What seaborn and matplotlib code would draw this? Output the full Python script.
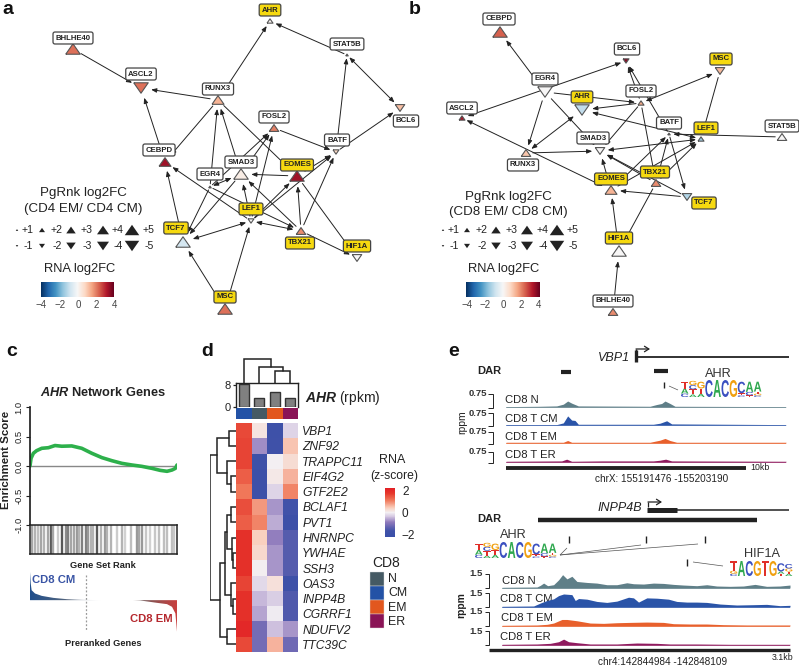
import numpy as np
import pandas as pd
import matplotlib
matplotlib.use("Agg")
import matplotlib.pyplot as plt
import seaborn as sns
from matplotlib.colors import LinearSegmentedColormap, ListedColormap
from matplotlib.font_manager import FontProperties
from matplotlib.patches import PathPatch, Polygon, Rectangle
from matplotlib.textpath import TextPath
from matplotlib.transforms import Affine2D

# -----------------------------------------------------------------------------
# DATA a : CD4 network (layout, in image pixels)
# -----------------------------------------------------------------------------
a_names = ["AHR", "BHLHE40", "ASCL2", "RUNX3", "STAT5B", "BCL6", "FOSL2", "BATF", "CEBPD",
           "SMAD3", "EGR4", "EOMES", "LEF1", "TCF7", "TBX21", "HIF1A", "MSC"]
a_x = [270, 73, 141, 218, 347, 400, 274, 336, 165, 241, 210, 297, 251, 183, 301, 357, 225]
a_y = [21, 49, 88, 100, 55, 108, 128, 152, 162, 174, 187, 176, 221, 242, 231, 258, 309]
a_lx = [270, 73, 141, 218, 347, 406, 274, 337, 159, 241, 210, 297, 251, 176, 300, 357, 225]
a_ly = [10, 38, 74, 89, 44, 121, 117, 140, 150, 162, 174, 165, 209, 228, 243, 246, 297]
a_rna = [0.1, 2.2, 2.2, 1.4, 0.0, 1.2, 2.0, 0.8, 3.4, 0.3, 0.1, 3.4, 0.0, -0.7, 1.9, 0.0, 2.2]
a_pgrnk = [2, 5, -5, 4, 1, -3, 3, -2, 4, 5, 1, 5, -2, 5, 3, -3, 5]
a_tf = ["AHR", "EOMES", "LEF1", "TCF7", "TBX21", "HIF1A", "MSC"]
a_edges = [("BHLHE40", "ASCL2"), ("CEBPD", "ASCL2"), ("RUNX3", "ASCL2"), ("RUNX3", "AHR"),
           ("RUNX3", "CEBPD"), ("EGR4", "RUNX3"), ("SMAD3", "RUNX3"), ("RUNX3", "EOMES"),
           ("STAT5B", "AHR"), ("FOSL2", "BATF"), ("BATF", "BCL6"), ("EGR4", "FOSL2"),
           ("SMAD3", "FOSL2"), ("LEF1", "FOSL2"), ("EOMES", "SMAD3"), ("LEF1", "SMAD3"),
           ("LEF1", "EOMES"), ("LEF1", "BATF"), ("EOMES", "BATF"), ("TBX21", "BATF"),
           ("TBX21", "EOMES"), ("TBX21", "SMAD3"), ("TBX21", "HIF1A"), ("EOMES", "HIF1A"),
           ("EGR4", "TBX21"), ("LEF1", "CEBPD"), ("TCF7", "CEBPD"), ("EGR4", "TCF7"),
           ("SMAD3", "TCF7"), ("MSC", "TCF7"), ("MSC", "LEF1")]
a_both = [("STAT5B", "BATF"), ("STAT5B", "BCL6"), ("LEF1", "TBX21"), ("EGR4", "SMAD3"), ("LEF1", "TCF7")]

# DATA b : CD8 network
b_names = ["CEBPD", "BCL6", "MSC", "EGR4", "AHR", "FOSL2", "ASCL2", "BATF", "LEF1", "STAT5B",
           "SMAD3", "RUNX3", "EOMES", "TBX21", "TCF7", "HIF1A", "BHLHE40"]
b_x = [500, 626, 720, 545, 582, 641, 462, 669, 701, 782, 600, 526, 611, 656, 687, 619, 613]
b_y = [32, 61, 71, 92, 110, 103, 118, 134, 139, 137, 151, 153, 190, 183, 197, 251, 312]
b_lx = [499, 627, 721, 545, 582, 641, 462, 669, 706, 782, 593, 523, 611, 655, 704, 619, 613]
b_ly = [19, 49, 59, 79, 97, 91, 108, 123, 128, 126, 138, 165, 179, 172, 203, 238, 301]
b_rna = [2.4, 3.6, 1.3, 0.0, -1.0, 1.5, 3.3, 0.2, -1.5, 0.0, 0.0, 1.1, 1.4, 1.9, -1.2, 0.0, 1.9]
b_pgrnk = [5, -2, -3, -5, -5, 2, 2, 1, 2, 3, -3, 3, 4, 3, -3, 5, 3]
b_tf = ["MSC", "AHR", "LEF1", "EOMES", "TBX21", "TCF7", "HIF1A"]
b_edges = [("EGR4", "CEBPD"), ("EGR4", "FOSL2"), ("EGR4", "RUNX3"), ("EGR4", "SMAD3"),
           ("RUNX3", "SMAD3"), ("FOSL2", "AHR"), ("FOSL2", "BCL6"), ("BATF", "BCL6"),
           ("MSC", "LEF1"), ("STAT5B", "BATF"), ("FOSL2", "SMAD3"), ("FOSL2", "TBX21"),
           ("BATF", "TCF7"), ("TBX21", "LEF1"), ("TBX21", "BATF"), ("EOMES", "LEF1"),
           ("EOMES", "BATF"), ("EOMES", "SMAD3"), ("TBX21", "SMAD3"), ("TCF7", "SMAD3"),
           ("TCF7", "EOMES"), ("TBX21", "HIF1A"), ("BHLHE40", "HIF1A")]
b_both = [("BCL6", "ASCL2"), ("RUNX3", "AHR"), ("ASCL2", "EOMES"), ("FOSL2", "MSC"),
          ("LEF1", "AHR"), ("LEF1", "SMAD3"), ("EOMES", "HIF1A")]

legend_levels = [1, 2, 3, 4, 5]

# DATA c : GSEA
es_rank = [0, .007, .023, .045, .08, .125, .17, .216, .284, .352, .42, .489, .557, .625,
           .693, .761, .83, .886, .932, .966, .989, 1.0]
es_score = [0, .13, .216, .26, .30, .31, .347, .335, .34, .30, .216, .142, .09, .045,
            .017, -.006, -.04, -.074, -.09, -.068, -.04, .017]
rug_pos = [22, 30, 38, 47, 58, 70, 78, 85, 98, 112, 122, 130, 137, 146, 155, 163, 170, 182, 190, 197,
           205, 217, 228, 238, 245, 258, 275, 290, 300, 318, 335, 342, 350, 362, 375, 388, 402, 415,
           425, 440, 447]
rug_shade = [.35, .3, .25, .35, .3, .35, .65, .35, .2, .65, .45, .5, .35, .35, .4, .3, .5, .5, .4, .3,
             .3, .65, .3, .4, .3, .3, .2, .3, .18, .25, .4, .35, .4, .22, .18, .22, .25, .25,
             .25, .25, .22]
rank_pos = [0, .005, .011, .034, .08, .159, .25, .364, .477, .7, .75, .864, .932, .966, .989, 1.0]
rank_metric = [28.3, 16.7, 10, 6.7, 4.3, 2.3, 1, .3, 0, 0, -.3, -2.7, -4, -6.7, -13.3, -31.7]

# DATA d : heatmap and AHR expression
col_names = ["CM", "N", "EM", "ER"]
gene_names = ["VBP1", "ZNF92", "TRAPPC11", "EIF4G2", "GTF2E2", "BCLAF1", "PVT1", "HNRNPC",
              "YWHAE", "SSH3", "OAS3", "INPP4B", "CGRRF1", "NDUFV2", "TTC39C"]
z_cm = [1.55, 1.6, 1.6, 1.35, 1.1, 1.5, 1.35, 1.85, 1.85, 1.85, 1.6, 1.85, 1.85, 2.0, 1.55]
z_n = [.15, -.75, -1.75, -1.85, -1.85, .85, 1.0, .4, .3, .03, -.2, -.45, -.6, -1.15, -1.15]
z_em = [-1.75, -1.7, 0, .1, -.25, -.7, -.55, -.85, -.7, -.7, .2, -.3, -.05, -.4, .65]
z_er = [-.25, .5, .25, .65, 1.0, -1.65, -1.85, -1.45, -1.45, -1.45, -1.8, -1.5, -1.5, -.7, -1.2]
ahr_rpkm = [8.3, 3.2, 5.6, 3.1]
legend_subsets = ["N", "CM", "EM", "ER"]
# (height, left, right), leaves are row / column indices
row_tree = (76, (55, (20, 0, 1), (26, 2, (14, 3, 4))),
            (47, (33, (25, (14, 5, 6), (12, 7, (8, 8, 9))), (16, 10, (8, 11, 12))), (26, 13, 14)))
col_tree = (73, 0, (47, 1, (35, 2, 3)))

# DATA e : accessibility tracks (position along the window, height in track units)
track_names = ["CD8 N", "CD8 T CM", "CD8 T EM", "CD8 T ER"]
vbp1_pos = [[228, 330, 380, 400, 413, 425, 445, 660, 680, 695, 705, 720, 735, 1068],
            [228, 380, 400, 413, 425, 435, 445, 670, 690, 710, 725, 1068],
            [228, 400, 413, 425, 660, 690, 705, 720, 740, 1068],
            [228, 395, 410, 425, 515, 670, 690, 707, 725, 1068]]
vbp1_h = [[1, 2, 3, 8, 17, 11, 3, 2, 7, 10, 17, 10, 2, 1],
          [1, 1, 6, 26, 14, 13, 2, 2, 5, 12, 3, 1],
          [2, 2, 7, 2, 2, 8, 13, 7, 2, 2],
          [2, 3, 8, 2, 3, 3, 5, 8, 3, 2]]
inpp4b_pos = [[215, 320, 330, 340, 352, 370, 385, 397, 410, 425, 440, 470, 500, 530, 560, 590, 610,
               640, 670, 700, 730, 760, 800, 830, 860, 900, 940, 975, 1010, 1050, 1080],
              [215, 310, 330, 350, 370, 385, 400, 425, 435, 445, 470, 500, 530, 560, 595, 610, 625,
               650, 680, 715, 740, 770, 800, 830, 870, 920, 970, 1010, 1050, 1080],
              [215, 320, 350, 370, 395, 410, 440, 480, 520, 560, 600, 650, 700, 730, 780, 830, 880, 950, 1080],
              [215, 320, 360, 385, 400, 415, 440, 480, 520, 560, 620, 680, 720, 800, 900, 1080]]
inpp4b_h = [[2, 3, 8, 15, 7, 10, 25, 41, 28, 36, 20, 17, 15, 10, 10, 16, 13, 12, 15, 14, 11, 9, 7, 10, 6, 5, 6, 11, 5, 6, 9],
            [2, 3, 12, 20, 25, 35, 40, 38, 20, 26, 24, 17, 14, 18, 30, 28, 15, 28, 27, 24, 17, 15, 15, 14, 9, 6, 7, 8, 4, 5],
            [2, 3, 5, 9, 20, 20, 16, 9, 8, 10, 11, 12, 11, 7, 6, 6, 4, 3, 3],
            [2, 3, 5, 10, 18, 10, 7, 3, 3, 3, 6, 5, 3, 3, 2, 2]]

# motif columns, letters from bottom to top with their share of the column
ahr_motif = [[("C", .2), ("A", .3), ("T", .4)], [("A", .15), ("T", .3), ("C", .25), ("G", .25)],
             [("A", .2), ("T", .3), ("G", .4)], [("C", 1)], [("A", 1)], [("C", 1)], [("G", 1)],
             [("C", .1), ("T", .12), ("C", .68)], [("T", .1), ("C", .2), ("A", .6)],
             [("C", .1), ("G", .1), ("T", .12), ("A", .58)]]
hif_motif = [[("C", .15), ("G", .2), ("T", .65)], [("A", 1)], [("C", 1)], [("G", 1)], [("T", 1)], [("G", 1)],
             [("T", .15), ("A", .15), ("C", .55)], [("A", .15), ("T", .15), ("G", .2), ("C", .3)]]

# -----------------------------------------------------------------------------
# STYLE
# -----------------------------------------------------------------------------
W, H = 799, 666
sns.set_theme(style="white")
plt.rcParams["font.family"] = ["Liberation Sans", "DejaVu Sans"]
plt.rcParams["mathtext.fontset"] = "custom"
plt.rcParams["mathtext.bfit"] = "Liberation Sans:italic:bold"
plt.rcParams["mathtext.rm"] = "Liberation Sans"

DARK = "#222222"
YELLOW = "#f6d90f"
TRACK_COLS = ["#5f7f88", "#2a54a8", "#e8602c", "#8f1a5e"]
SUBSET_COLS = {"CM": "#2352a6", "N": "#455a64", "EM": "#e2571e", "ER": "#8a1456"}
LETTER_COLS = {"A": "#2fa84f", "C": "#3b50c0", "G": "#f0a010", "T": "#e0302a"}
WIDTHS = {1: 2.5, 2: 6, 3: 9.5, 4: 12, 5: 14.5}
SIZES = {k: (v * 0.72) ** 2 for k, v in WIDTHS.items()}
TRI = {"up": [(-1, -.72), (1, -.72), (0, .72), (-1, -.72)], "down": [(-1, .72), (1, .72), (0, -.72), (-1, .72)]}

fig = plt.figure(figsize=(W / 100, H / 100), dpi=100)


def px_axes(x0, y0, x1, y1):
    return fig.add_axes([x0 / W, 1 - y1 / H, (x1 - x0) / W, (y1 - y0) / H])


# full figure canvas in image pixels for the network and all loose text
canvas = px_axes(0, 0, W, H)
canvas.set_xlim(0, W)
canvas.set_ylim(H, 0)
canvas.axis("off")
canvas.patch.set_alpha(0)


def put(x, y, s, size=8, ha="center", va="center", **kw):
    canvas.text(x, y, s, fontsize=size, ha=ha, va=va, color=kw.pop("color", DARK), **kw)


def rule(xs, ys, lw=1, color=DARK):
    canvas.plot(xs, ys, lw=lw, color=color, solid_capstyle="butt", solid_joinstyle="miter")


def triangles(df):
    df = df.assign(dir=np.where(df["pg"] > 0, "up", "down"), lvl=df["pg"].abs())
    if "rna" in df:
        sns.scatterplot(data=df, x="x", y="y", hue="rna", hue_norm=(-4, 4), palette="RdBu_r", size="lvl",
                        sizes=SIZES, style="dir", markers=TRI, edgecolor="#555555", linewidth=.8,
                        legend=False, zorder=3, ax=canvas)
    else:
        sns.scatterplot(data=df, x="x", y="y", color=DARK, size="lvl", sizes=SIZES, style="dir", markers=TRI,
                        edgecolor=DARK, linewidth=0, legend=False, zorder=3, ax=canvas)


def network(names, xs, ys, lxs, lys, rna, pg, tfs, edges, both):
    nodes = pd.DataFrame({"name": names, "x": xs, "y": ys, "rna": rna, "pg": pg}).set_index("name")
    for pairs, style in ((edges, "-|>"), (both, "<|-|>")):
        for src, dst in pairs:
            s, d = nodes.loc[src], nodes.loc[dst]
            canvas.annotate("", xy=(d.x, d.y), xytext=(s.x, s.y), zorder=2, arrowprops=dict(
                arrowstyle=style + ",head_length=.45,head_width=.18", mutation_scale=7, lw=.7, color=DARK,
                shrinkA=(WIDTHS[abs(s.pg)] * .5 + 2) * .72, shrinkB=(WIDTHS[abs(d.pg)] * .5 + 3) * .72))
    triangles(nodes.reset_index())
    for n, lx, ly in zip(names, lxs, lys):
        canvas.text(lx, ly, n, fontsize=5.6, fontweight="bold", ha="center", va="center", color="#222222", zorder=4,
                    bbox=dict(boxstyle="round,pad=0.32,rounding_size=0.25", lw=.9, ec="#444444",
                              fc=YELLOW if n in tfs else "white"))


def size_legend(title1, title2, tx, tri_x, lab_x, rna_x, bar_x, tick_x):
    put(tx, 193 if tx < 300 else 197, title1, 9.6)
    put(tx, 209 if tx < 300 else 212, title2, 9.6)
    triangles(pd.DataFrame({"x": tri_x, "y": [230] * 5, "pg": legend_levels}))
    triangles(pd.DataFrame({"x": tri_x, "y": [246] * 5, "pg": [-v for v in legend_levels]}))
    for lx, lev in zip(lab_x, legend_levels):
        put(lx, 230, f"+{lev}", 7.6)
        put(lx, 246, f"-{lev}", 7.6)
    put(rna_x, 269, "RNA log2FC", 9.3)
    cax = px_axes(bar_x[0], 282, bar_x[1], 297)
    cax.imshow(np.linspace(-4, 4, 256)[None, :], cmap="RdBu_r", vmin=-4, vmax=4, aspect="auto")
    cax.axis("off")
    for tk, lab in zip(tick_x, ["\u22124", "\u22122", "0", "2", "4"]):
        put(tk, 305, lab, 7, color="#444444")


network(a_names, a_x, a_y, a_lx, a_ly, a_rna, a_pgrnk, a_tf, a_edges, a_both)
network(b_names, b_x, b_y, b_lx, b_ly, b_rna, b_pgrnk, b_tf, b_edges, b_both)
size_legend("PgRnk log2FC", "(CD4 EM/ CD4 CM)", 83, [17, 42, 71, 103, 132], [28, 57, 87, 118, 149],
            80, (41, 114), [41, 60, 78, 96, 114])
size_legend("PgRnk log2FC", "(CD8 EM/ CD8 CM)", 508, [443, 467, 496, 527, 557], [454, 482, 512, 543, 573],
            504, (466, 539), [467, 485, 503, 521, 539])

for lab, lx, ly in (("a", 8, 9), ("b", 415, 10), ("c", 12, 352), ("d", 207, 352), ("e", 454, 352)):
    put(lx, ly, lab, 14, fontweight="bold", color="#111111")

# -----------------------------------------------------------------------------
# PANEL c
# -----------------------------------------------------------------------------
ax_es = px_axes(30, 407, 177, 525)
ax_es.axhline(0, color="#888888", lw=1)
sns.lineplot(x=es_rank, y=es_score, color="#2db04b", lw=2.6, ax=ax_es, errorbar=None)
ax_es.set(xlim=(0, 1), ylim=(-1, 1), xlabel="", ylabel="", xticks=[], yticks=[-1, -.5, 0, .5, 1])
ax_es.set_yticklabels(["-1.0", "-0.5", "0.0", "0.5", "1.0"], rotation=90, va="center", fontsize=6.8)
ax_es.tick_params(axis="y", length=3, width=.8, pad=1.5, left=True, color=DARK, labelcolor=DARK)
sns.despine(ax=ax_es, top=True, right=True, bottom=True)
ax_es.spines["left"].set_color(DARK)
ax_es.patch.set_alpha(0)
put(6, 460, "Enrichment Score", 8.2, rotation=90, fontweight="bold")
put(103, 393, r"$\bfit{AHR}$ Network Genes", 9.2, fontweight="bold")

ax_rug = px_axes(30, 525, 177, 554)
ax_rug.vlines(np.array(rug_pos), 0, 1, colors=[str(round(1 - v, 2)) for v in rug_shade], lw=1.7)
ax_rug.set(xlim=(15, 455), ylim=(0, 1), xticks=[], yticks=[])
for sp in ax_rug.spines.values():
    sp.set_visible(True)
    sp.set_color(DARK)
    sp.set_linewidth(1.1)
put(103, 566, "Gene Set Rank", 6.7, fontweight="bold")

ax_rank = px_axes(30, 572, 177, 632)
grad = LinearSegmentedColormap.from_list("rank", ["#1f4e8c", "#55667e", "#ffffff", "#6e5a5a", "#c8403f"])
im = ax_rank.imshow(np.linspace(0, 1, 256)[None, :], cmap=grad, extent=(0, 1, -31.7, 28.3), aspect="auto")
clip = Polygon(np.column_stack([rank_pos + [1, 0], rank_metric + [0, 0]]), fc="none", ec="none")
ax_rank.add_patch(clip)
im.set_clip_path(clip)
ax_rank.set(xlim=(0, 1), ylim=(-32, 28.3))
ax_rank.axis("off")
rule([86, 86], [575, 630], lw=.9, color="#999999")
canvas.lines[-1].set_linestyle((0, (1.5, 1.5)))
put(32, 580, "CD8 CM", 8.1, ha="left", fontweight="bold", color="#3a55a5")
put(173, 619, "CD8 EM", 8.1, ha="right", fontweight="bold", color="#b5282e")
put(103, 643, "Preranked Genes", 6.7, fontweight="bold")


# -----------------------------------------------------------------------------
# PANEL d
# -----------------------------------------------------------------------------
def draw_tree(ax, node, horizontal):
    if not isinstance(node, tuple):
        return node + .5, 0
    h, left, right = node
    p0, h0 = draw_tree(ax, left, horizontal)
    p1, h1 = draw_tree(ax, right, horizontal)
    hs, ps = [h0, h, h, h1], [p0, p0, p1, p1]
    ax.plot(hs if horizontal else ps, ps if horizontal else hs, color=DARK, lw=1.1, solid_joinstyle="miter")
    return (p0 + p1) / 2, h


zscores = pd.DataFrame({"CM": z_cm, "N": z_n, "EM": z_em, "ER": z_er}, index=gene_names)
z_cmap = LinearSegmentedColormap.from_list("zrna", [
    (0, "#3a4fa8"), (.12, "#3f51a8"), (.3, "#8f7abc"), (.42, "#d5c8e2"), (.5, "#f3f0f3"),
    (.6, "#f9cdbb"), (.75, "#f0785a"), (.9, "#e5352a"), (1, "#e21f26")])
ax_heat = px_axes(236, 423, 298, 652)
ax_cb = px_axes(385, 488, 395, 537)
sns.heatmap(zscores, cmap=z_cmap, vmin=-2.2, vmax=2.2, ax=ax_heat, cbar_ax=ax_cb, xticklabels=False, yticklabels=True)
ax_heat.yaxis.tick_right()
ax_heat.tick_params(axis="y", length=0, pad=3, labelsize=8.7, labelcolor=DARK)
for lab in ax_heat.get_yticklabels():
    lab.set_rotation(0)
    lab.set_fontstyle("italic")
ax_heat.set(xlabel="", ylabel="")
ax_cb.set_yticks([-2, 0, 2])
ax_cb.set_yticklabels(["\u22122", "0", "2"])
ax_cb.tick_params(axis="y", length=3, width=.9, color="white", direction="in", pad=5, labelsize=8.5, labelcolor=DARK)
put(392, 460, "RNA", 9)
put(394, 476, "(z-score)", 8.7)

ax_strip = px_axes(236, 408, 298, 419)
sns.heatmap(pd.DataFrame([range(4)], columns=col_names), cmap=ListedColormap([SUBSET_COLS[c] for c in col_names]),
            cbar=False, xticklabels=False, yticklabels=False, ax=ax_strip)
ax_strip.set(xlabel="", ylabel="")

ax_bar = px_axes(236, 383, 298, 407)
sns.barplot(x=col_names, y=ahr_rpkm, color="#808080", edgecolor="#333333", linewidth=1, width=.62, saturation=1, ax=ax_bar)
ax_bar.set(ylim=(0, 8.7), yticks=[0, 8], xticks=[], xlim=(-.5, 3.5), xlabel="", ylabel="")
ax_bar.tick_params(axis="y", length=2.5, width=.9, left=True, pad=1.5, labelsize=8, labelcolor=DARK, color=DARK)
for side in ("left", "top", "right"):
    ax_bar.spines[side].set_color(DARK)
    ax_bar.spines[side].set_linewidth(1)
ax_bar.spines["bottom"].set_visible(False)
put(305, 398, r"$\bfit{AHR}$ (rpkm)", 10, ha="left")

ax_top = px_axes(236, 358, 298, 383)
draw_tree(ax_top, col_tree, False)
ax_top.set(xlim=(0, 4), ylim=(0, 75))
ax_top.axis("off")
ax_left = px_axes(210, 423, 236, 652)
draw_tree(ax_left, row_tree, True)
ax_left.set(xlim=(76, 0), ylim=(15, 0))
ax_left.axis("off")

put(386, 563, "CD8", 10)
for i, name in enumerate(legend_subsets):
    canvas.add_patch(Rectangle((370, 572 + i * 14), 13.5, 14, fc=SUBSET_COLS[name], ec="#dddddd", lw=.3))
    put(388, 579 + i * 14.4, name, 8.9, ha="left")


# -----------------------------------------------------------------------------
# PANEL e
# -----------------------------------------------------------------------------
def tracks(pos, hts, x0, x1, bases, ymax, xlim):
    for i, name in enumerate(track_names):
        ax = px_axes(x0, bases[i] - 14, x1, bases[i] + .8)
        ax.fill_between(pos[i], 0, hts[i], color=TRACK_COLS[i], lw=0)
        sns.lineplot(x=pos[i], y=[0] * len(pos[i]), color=TRACK_COLS[i], lw=.7, alpha=.7, errorbar=None, ax=ax)
        ax.set(xlim=xlim, ylim=(-ymax * .06, ymax))
        ax.axis("off")


def logo(columns, x0, x1, y0, y1):
    step = (x1 - x0) / len(columns)
    fp = FontProperties(family="Liberation Sans", weight="bold")
    for i, col in enumerate(columns):
        base = y1
        for letter, share in col:
            tp = TextPath((0, 0), letter, size=10, prop=fp)
            bb = tp.get_extents()
            h = share * (y1 - y0)
            tf = Affine2D().translate(-bb.x0, -bb.y0).scale(step * .92 / bb.width, -h / bb.height)
            tf = tf.translate(x0 + i * step, base)
            canvas.add_patch(PathPatch(tp.transformed(tf), fc=LETTER_COLS[letter], lw=0, zorder=3))
            base -= h


def tss_arrow(x, y0, y1, x1):
    # bent promoter arrow: stem up from the gene, head pointing downstream
    rule([x, x], [y0, y1], lw=.9)
    canvas.annotate("", xy=(x1, y1), xytext=(x, y1), arrowprops=dict(
        arrowstyle="->,head_length=.35,head_width=.22", lw=.9, color=DARK, shrinkA=0, shrinkB=0, mutation_scale=9))


# VBP1 locus
put(614, 358, "VBP1", 9, style="italic")
rule([636, 636], [350, 362], lw=2.4)
rule([637, 789], [357, 357], lw=1.3)
tss_arrow(636, 355, 349, 650)
put(489, 371, "DAR", 8, fontweight="bold")
rule([561, 571], [372, 372], lw=3)
rule([654, 668], [371, 371], lw=3)
rule([664, 664], [382, 388], lw=1)
rule([669, 678], [386, 390], lw=.5, color="#555555")
put(718, 374, "AHR", 9.2, color="#333333")
logo(ahr_motif, 681, 762, 380, 397)
tracks(vbp1_pos, vbp1_h, 506, 786, [407, 425, 443, 462], 40, (228, 1068))
for name, ty, lab_y, brk in zip(track_names, [400, 419, 437, 455], [394, 413, 432, 452], [407, 425, 443, 462]):
    put(505, ty, name, 8.1, ha="left")
    put(478, lab_y, "0.75", 6.8, fontweight="bold", color="#333333")
    rule([488, 493, 493, 488], [lab_y, lab_y, brk + 1, brk + 1], lw=.7)
put(462, 422, "rppm", 7.4, rotation=90)
rule([506, 746], [468, 468], lw=2.8)
put(750, 468, "10kb", 6.3, ha="left")
put(662, 479, "chrX: 155191476 -155203190", 7.2)

# INPP4B locus
put(620, 508, "INPP4B", 9, style="italic")
rule([647, 677], [509.5, 509.5], lw=3.6)
rule([677, 789], [509.5, 509.5], lw=1.1)
tss_arrow(648, 507, 502, 662)
put(489, 519, "DAR", 8, fontweight="bold")
rule([538, 757], [520, 520], lw=3.2)
put(513, 535, "AHR", 9.2, color="#333333")
logo(ahr_motif, 475, 557, 542, 558)
put(762, 554, "HIF1A", 9.2, color="#333333")
logo(hif_motif, 730, 793, 561, 576)
for tx, ty in ((569, 539), (646, 539), (705, 539), (687, 562)):
    rule([tx, tx], [ty - 3.5, ty + 3.5], lw=1)
for lx, ly in ((567, 548), (641, 545), (698, 544)):
    rule([560, lx], [555, ly], lw=.5, color="#555555")
rule([693, 723], [562, 566], lw=.5, color="#555555")
tracks(inpp4b_pos, inpp4b_h, 502, 790, [588, 607, 626, 645], 43, (215, 1080))
for name, lx, ty, lab_y, brk in zip(track_names, [502, 500, 501, 500], [581, 599, 618, 637],
                                    [574, 593, 612, 631], [588, 607, 626, 645]):
    put(lx, ty, name, 8.1, ha="left")
    put(476, lab_y, "1.5", 6.8, fontweight="bold", color="#333333")
    rule([485, 489, 489, 485], [lab_y, lab_y, brk, brk], lw=.7)
put(461, 605, "rppm", 7.4, rotation=90, fontweight="bold")
rule([489, 790], [650, 650], lw=2.4)
put(783, 658, "3.1kb", 6.3)
put(663, 662, "chr4:142844984 -142848109", 7.2)

fig.savefig("out.png", dpi=100)
plt.close(fig)
print("saved out.png")
